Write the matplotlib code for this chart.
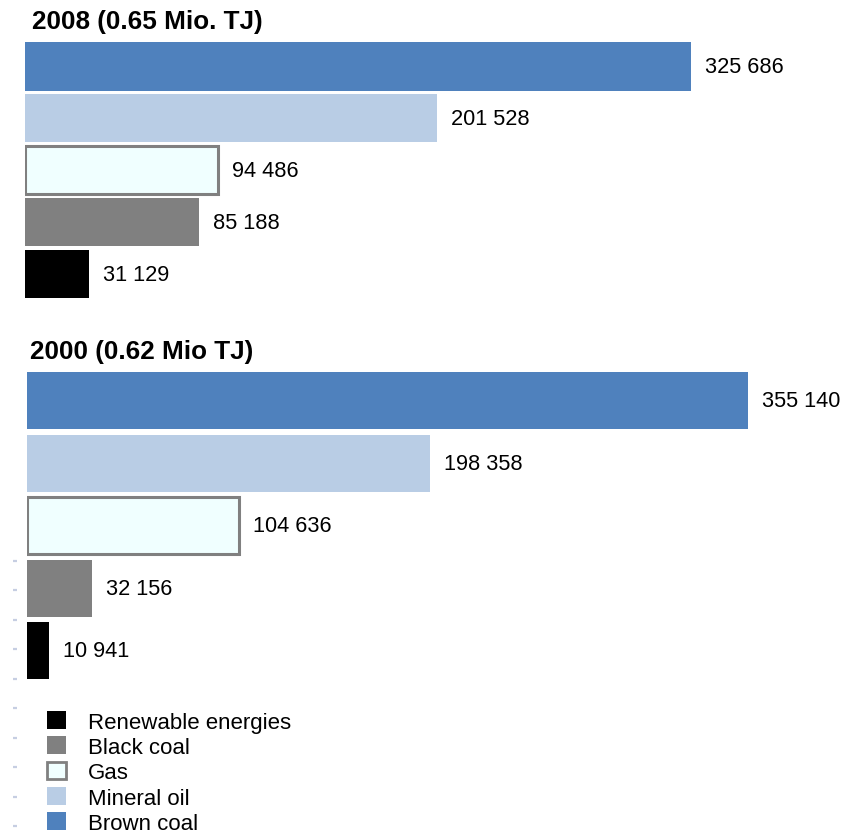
import matplotlib.pyplot as plt
from matplotlib.patches import Patch

plt.rcParams['font.family'] = ['Liberation Sans', 'DejaVu Sans']

# primary energy consumption by source, TJ
sources = ['Brown coal', 'Mineral oil', 'Gas', 'Black coal', 'Renewable energies']
values_2008 = [325686, 201528, 94486, 85188, 31129]
values_2000 = [355140, 198358, 104636, 32156, 10941]
title_2008 = '2008 (0.65 Mio. TJ)'
title_2000 = '2000 (0.62 Mio TJ)'

face = {'Brown coal': '#4f81bd', 'Mineral oil': '#b9cde5', 'Gas': '#f0ffff',
        'Black coal': '#808080', 'Renewable energies': '#000000'}
edge = {'Gas': '#808080'}

W, H = 843, 837
fig = plt.figure(figsize=(W / 100, H / 100), dpi=100)


def px_axes(left, top, width, height):
    return fig.add_axes([left / W, 1 - (top + height) / H, width / W, height / H])


def draw_panel(ax, vals, bar_h):
    pos = list(range(len(sources)))
    for i, (src, v) in enumerate(zip(sources, vals)):
        ec = edge.get(src, face[src])
        lw = 2.2 if src in edge else 0
        ax.barh(i, v, height=bar_h, color=face[src], edgecolor=ec, linewidth=lw)
        ax.annotate(f'{v:,}'.replace(',', ' '), (v, i), xytext=(10, 0),
                    textcoords='offset points', va='center', ha='left', fontsize=15.7)
    ax.set_xlim(0, 400000)
    ax.set_ylim(len(pos) - 0.5, -0.5)
    ax.axis('off')


ax1 = px_axes(25, 41.5, 818, 259.5)
draw_panel(ax1, values_2008, 0.93)
ax2 = px_axes(27, 370.2, 812, 313.1)
draw_panel(ax2, values_2000, 0.91)

fig.text(32 / W, 1 - 22 / H, title_2008, fontsize=18.8, fontweight='bold', va='center')
fig.text(30 / W, 1 - 352 / H, title_2000, fontsize=18.8, fontweight='bold', va='center')

# faint tick column down the left edge
axt = px_axes(17, 562, 1, 265)
axt.set_ylim(9, 0)
axt.set_yticks(range(10))
axt.set_yticklabels([])
axt.set_xticks([])
for s in axt.spines.values():
    s.set_visible(False)
axt.tick_params(axis='y', length=3, width=1.6, color='#c6cee2', direction='out')
axt.patch.set_visible(False)

handles = []
for src in reversed(sources):
    handles.append(Patch(facecolor=face[src], edgecolor=edge.get(src, face[src]),
                         linewidth=2 if src in edge else 0, label=src))
fig.legend(handles=handles, loc='upper left', bbox_to_anchor=(47 / W, 1 - 712 / H),
           frameon=False, fontsize=16, handlelength=0.85, handleheight=0.85,
           handletextpad=1.0, labelspacing=0.17, borderpad=0, borderaxespad=0)

fig.savefig('out.png', dpi=100)
